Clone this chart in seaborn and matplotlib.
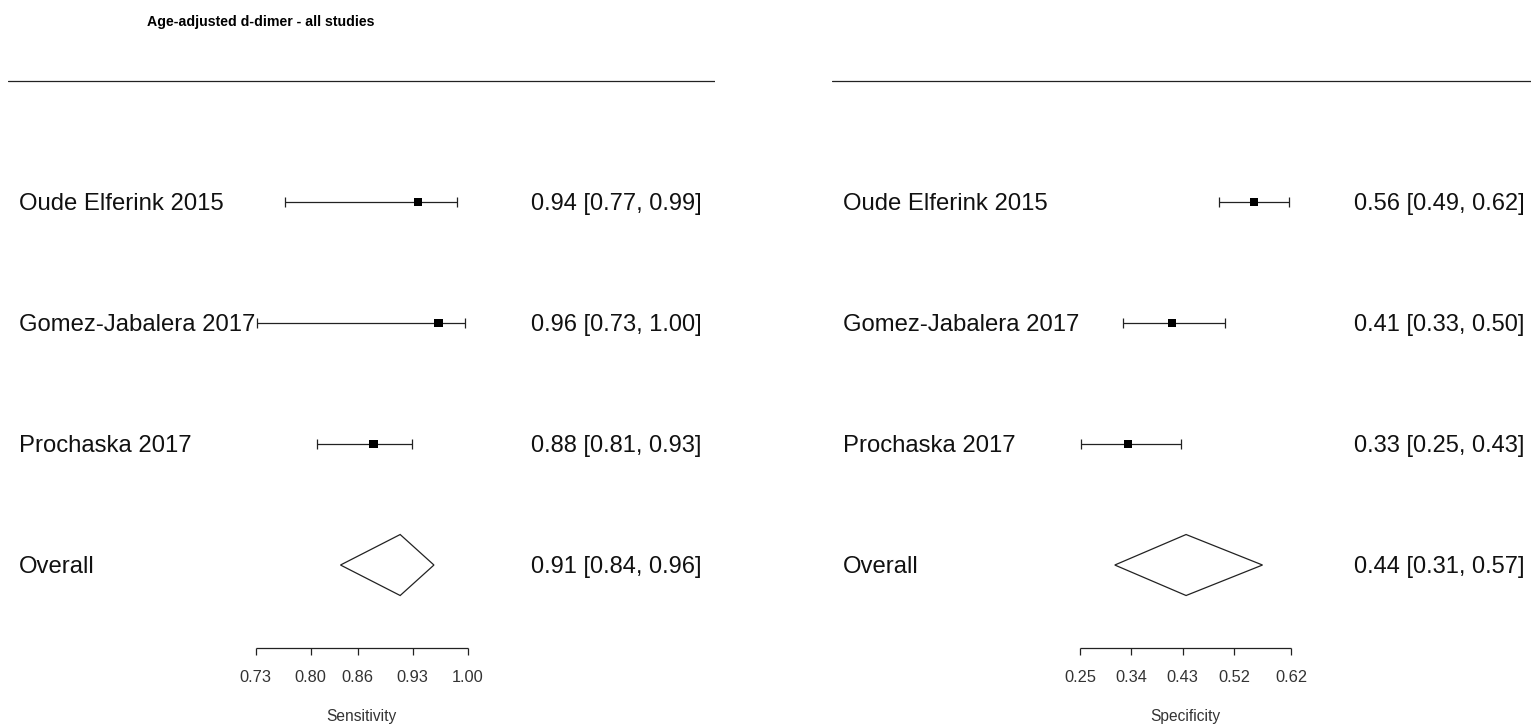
import matplotlib
matplotlib.use("Agg")
import matplotlib.pyplot as plt
import seaborn as sns
import pandas as pd

# ---- data ----
studies = ["Oude Elferink 2015", "Gomez-Jabalera 2017", "Prochaska 2017"]
rows = [3, 2, 1]

sens_est = [0.937, 0.963, 0.880]
sens_lo = [0.767, 0.732, 0.808]
sens_hi = [0.986, 0.996, 0.929]
sens_overall = [0.914, 0.838, 0.957]  # est, lo, hi
sens_text = ["0.94 [0.77, 0.99]", "0.96 [0.73, 1.00]", "0.88 [0.81, 0.93]"]
sens_overall_text = "0.91 [0.84, 0.96]"
sens_ticks = [0.73, 0.80, 0.86, 0.93, 1.00]
sens_ticklabels = ["0.73", "0.80", "0.86", "0.93", "1.00"]

spec_est = [0.555, 0.411, 0.334]
spec_lo = [0.494, 0.325, 0.252]
spec_hi = [0.617, 0.505, 0.427]
spec_overall = [0.436, 0.311, 0.570]
spec_text = ["0.56 [0.49, 0.62]", "0.41 [0.33, 0.50]", "0.33 [0.25, 0.43]"]
spec_overall_text = "0.44 [0.31, 0.57]"
spec_ticks = [0.25, 0.34, 0.43, 0.52, 0.62]
spec_ticklabels = ["0.25", "0.34", "0.43", "0.52", "0.62"]

title = "Age-adjusted d-dimer - all studies"

# ---- style ----
sns.set_theme(style="white")
plt.rcParams["font.family"] = ["Liberation Sans", "DejaVu Sans"]

W, H = 1531, 725
fig = plt.figure(figsize=(W / 100, H / 100), dpi=100)
fig.patch.set_facecolor("white")

LC = "#222222"
LW = 0.9
TXT_DY = -0.016


def panel(left_px, right_px, xlim, est, lo, hi, overall, texts, overall_text,
          ticks, ticklabels, xlabel, label_x, text_x):
    ax = fig.add_axes([left_px / W, 0, (right_px - left_px) / W, 1])
    ax.set_xlim(*xlim)
    ax.set_ylim(-1.322, 4.669)
    ax.axis("off")
    df = pd.DataFrame({"study": studies, "row": rows, "est": est, "lo": lo, "hi": hi})
    # header line
    ax.axhline(4.0, color=LC, lw=LW)
    # CIs
    ax.hlines(df["row"], df["lo"], df["hi"], color=LC, lw=LW)
    cap = 0.042
    ax.vlines(df["lo"], df["row"] - cap, df["row"] + cap, color=LC, lw=LW)
    ax.vlines(df["hi"], df["row"] - cap, df["row"] + cap, color=LC, lw=LW)
    sns.scatterplot(data=df, x="est", y="row", marker="s", s=36, color="black",
                    edgecolor="none", ax=ax, legend=False, zorder=3)
    # overall diamond
    e, l, h = overall
    dh = 0.252
    ax.fill([l, e, h, e, l], [0, dh, 0, -dh, 0], facecolor="white",
            edgecolor=LC, lw=LW, zorder=2)
    # labels
    tr = ax.get_yaxis_transform()
    for r, s, t in zip(rows, studies, texts):
        ax.text(label_x, r + TXT_DY, s, transform=tr, ha="left",
                va="center", fontsize=17.2, color="#111111")
        ax.text(text_x, r + TXT_DY, t, transform=tr, ha="right",
                va="center", fontsize=17.0, color="#111111")
    ax.text(label_x, TXT_DY, "Overall", transform=tr, ha="left",
            va="center", fontsize=17.2, color="#111111")
    ax.text(text_x, TXT_DY, overall_text, transform=tr, ha="right",
            va="center", fontsize=17.0, color="#111111")
    # x axis
    ya = -0.686
    ax.hlines(ya, ticks[0], ticks[-1], color=LC, lw=LW)
    ax.vlines(ticks, ya - 0.058, ya, color=LC, lw=LW)
    for t, tl in zip(ticks, ticklabels):
        ax.text(t, -0.926, tl, ha="center", va="center", fontsize=11.8, color="#333333")
    ax.text((ticks[0] + ticks[-1]) / 2, -1.248, xlabel, ha="center", va="center",
            fontsize=11.2, color="#333333")
    return ax


panel(8, 715, (0.41454, 1.31495), sens_est, sens_lo, sens_hi, sens_overall,
      sens_text, sens_overall_text, sens_ticks, sens_ticklabels, "Sensitivity",
      (19 - 8) / 707, (701.7 - 8) / 707)
panel(832, 1531, (-0.18486, 1.04081), spec_est, spec_lo, spec_hi, spec_overall,
      spec_text, spec_overall_text, spec_ticks, spec_ticklabels, "Specificity",
      (842.7 - 832) / 699, (1524.3 - 832) / 699)

fig.text(261 / W, 1 - 22 / H, title, ha="center", va="center", fontsize=10.2,
         fontweight="bold", color="black")

fig.savefig("out.png", dpi=100, facecolor="white")
